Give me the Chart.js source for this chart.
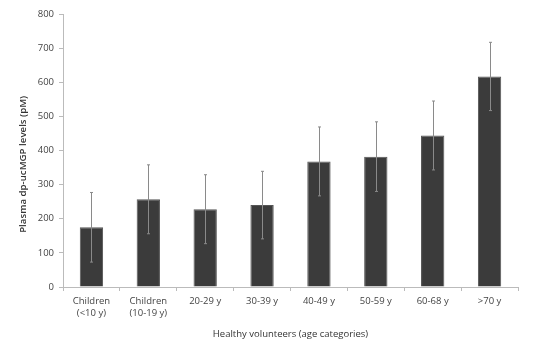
<!DOCTYPE html>
<html><head><meta charset="utf-8">
<script src="https://cdn.jsdelivr.net/npm/chart.js@4"></script>
<style>html,body{margin:0;padding:0;background:#fff}#wrap{width:536px;height:363px}</style>
</head><body><div id="wrap"><canvas id="c" width="536" height="363"></canvas></div>
<script>
const categories = [["Children","(<10 y)"],["Children","(10-19 y)"],"20-29 y","30-39 y","40-49 y","50-59 y","60-68 y",">70 y"];
const means = [175, 257, 228, 240, 368, 382, 444, 617];
const sds = [102, 101, 101, 99, 101, 102, 101, 100];
const yTicks = [0,100,200,300,400,500,600,700,800];

const errPlugin = {
  id:'err',
  afterDatasetsDraw(chart){
    const ctx = chart.ctx, meta = chart.getDatasetMeta(0), y = chart.scales.y;
    ctx.save();
    ctx.strokeStyle = '#8a8a8a'; ctx.lineWidth = 1;
    meta.data.forEach((bar,i)=>{
      const x = Math.round(bar.x)+0.5;
      const t = y.getPixelForValue(means[i]+sds[i]);
      const b = y.getPixelForValue(means[i]-sds[i]);
      ctx.beginPath(); ctx.moveTo(x,t); ctx.lineTo(x,b);
      ctx.moveTo(x-1.5,t); ctx.lineTo(x+1.5,t);
      ctx.moveTo(x-1.5,b); ctx.lineTo(x+1.5,b);
      ctx.stroke();
    });
    ctx.restore();
  }
};

new Chart(document.getElementById('c'), {
  type:'bar',
  data:{labels:categories, datasets:[{data:means, backgroundColor:'#3b3b3b', borderColor:'#555', borderWidth:1, barPercentage:0.41, categoryPercentage:1}]},
  plugins:[errPlugin],
  options:{
    responsive:false, animation:false,
    layout:{padding:{top:14,right:18,left:0,bottom:0}},
    plugins:{legend:{display:false}, tooltip:{enabled:false}},
    scales:{
      x:{
        grid:{drawOnChartArea:false, color:'#bbb', tickLength:4, offset:true},
        border:{color:'#bbb'},
        ticks:{color:'#444', font:{family:'Open Sans', size:9.5}, padding:5, maxRotation:0, autoSkip:false},
        title:{display:true, text:'Healthy volunteers (age categories)', color:'#333', font:{family:'Open Sans', size:9.5}, padding:{top:4, bottom:23}},
        afterFit(s){ s.height = 76; }
      },
      y:{
        min:0, max:800,
        afterBuildTicks(s){ s.ticks = yTicks.map(v=>({value:v})); },
        grid:{drawOnChartArea:false, color:'#bbb', tickLength:4},
        border:{color:'#bbb'},
        ticks:{color:'#444', font:{family:'Open Sans', size:9.5}, padding:5},
        title:{display:true, text:'Plasma dp-ucMGP levels (pM)           ', color:'#333', font:{family:'Open Sans', size:9.7, weight:'600'}, padding:{top:17, bottom:4}},
        afterFit(s){ s.width = 63; }
      }
    }
  }
});
</script></body></html>
